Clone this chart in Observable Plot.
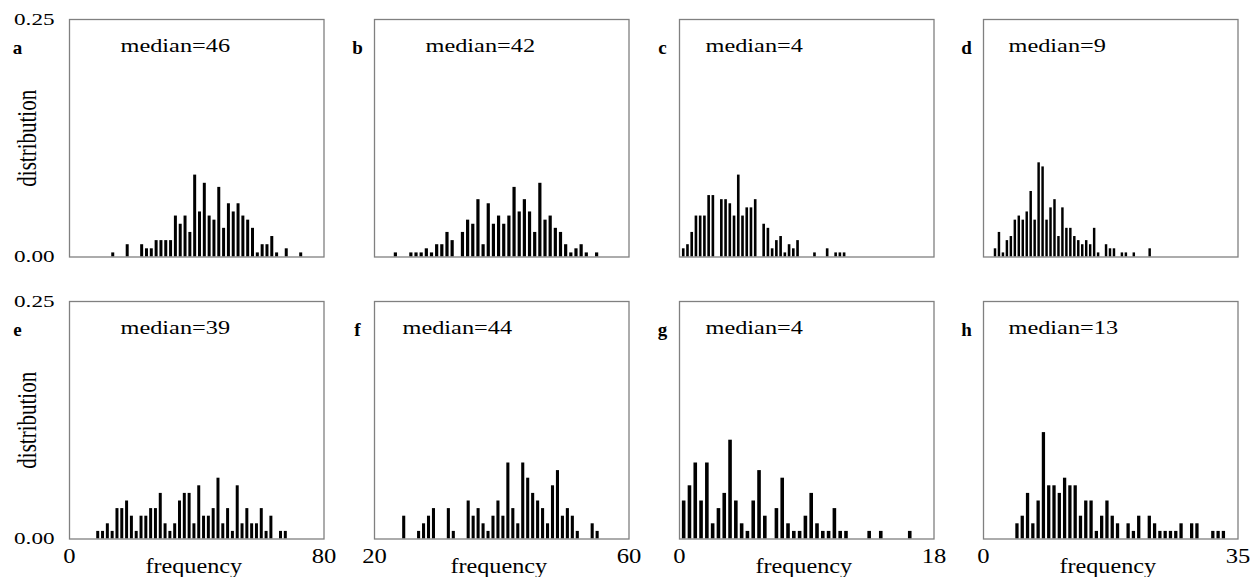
<!DOCTYPE html>
<html>
<head>
<meta charset="utf-8">
<script src="https://cdn.jsdelivr.net/npm/d3@7"></script>
<script src="https://cdn.jsdelivr.net/npm/@observablehq/plot@0.6"></script>
<style>
  html, body { margin: 0; padding: 0; background: #ffffff; }
  #root { position: relative; width: 1252px; height: 577px; overflow: hidden; background: #ffffff; }
  #root svg { position: absolute; overflow: visible; }
</style>
</head>
<body>
<div id="root"></div>
<script>
// ---------------- data ----------------
const letters = ["a", "b", "c", "d", "e", "f", "g", "h"];
const medians = [46, 42, 4, 9, 39, 44, 4, 13];
const totals = [232, 232, 232, 232, 125, 125, 125, 125];           // sample size per panel
const xDomains = [[0, 80], [20, 60], [0, 18], [0, 35], [0, 80], [20, 60], [0, 18], [0, 35]];
const firstBinCenter = [13.75, 23.36, 0.30, 1.65, 9.03, 24.67, 0.33, 4.67];
const binWidth = [1.515, 0.811, 0.2994, 0.5454, 1.512, 0.7795, 0.41, 0.728];
const yTicks = [0, 0.25];

// counts per histogram bin (40 bins each)
const countsA = [1,0,0,3,0,0,3,2,2,4,4,4,4,10,8,10,6,20,11,18,10,9,17,7,13,11,13,10,9,7,1,3,3,5,1,0,2,0,0,1];
const countsB = [1,0,0,1,1,1,2,1,3,3,6,4,0,6,9,8,14,3,13,8,10,8,10,17,11,14,11,6,18,9,10,7,6,3,1,2,3,1,0,1];
const countsC = [2,3,6,10,10,10,15,15,0,14,14,13,10,20,10,12,12,14,0,8,7,2,4,5,1,3,2,4,0,0,0,1,0,0,2,0,1,1,1];
const countsD = [2,6,1,4,5,9,10,9,11,16,9,23,22,9,12,14,5,12,7,7,5,4,3,4,3,7,1,0,3,2,2,0,1,1,0,1,0,0,0,2];
const countsE = [1,1,2,1,4,4,5,3,1,3,3,4,4,6,2,1,2,5,6,6,2,7,3,3,4,8,2,4,1,7,2,4,2,2,4,1,3,0,1,1];
const countsF = [3,0,0,1,2,3,4,0,0,4,1,0,0,5,3,4,2,1,3,5,3,10,4,2,10,8,6,5,4,2,7,9,3,4,3,1,0,0,2,1];
const countsG = [5,7,10,5,10,2,4,6,13,5,2,1,5,9,3,0,4,8,2,1,1,3,6,2,1,1,4,1,1,0,0,0,1,0,1,0,0,0,0,1];
const countsH = [2,3,6,2,5,14,7,7,6,8,7,7,3,5,5,1,3,5,3,2,0,2,1,3,0,3,2,1,1,1,1,2,0,2,2,0,0,1,1,1];
const allCounts = [countsA, countsB, countsC, countsD, countsE, countsF, countsG, countsH];

// ---------------- layout ----------------
const frameLeft = [69, 374, 678.5, 983.3];
const frameTop = [19.3, 300.7];
const frameW = 254.5, frameH = 237.5;
const M = {l: 70, t: 25, r: 20, b: 45};
const medianDx = [51, 51, 26, 25, 51, 28, 26, 25];
const barFrac = 0.31;
const FONT = '"Liberation Serif", "Times New Roman", Times, serif';

// stretch of text glyphs [sx, sy, fontSize] to mimic the reference's wide glyphs
const stretch = {
  "median": [1.28, 1, 19],
  "frequency": [1.1, 1, 22],
  "distribution": [1, 1.25, 21],
  "x-axis tick label": [1.12, 1, 22],
  "y-axis tick label": [1.36, 1, 17]
};

function len(v, fs) {
  if (v == null || v === "") return 0;
  const s = String(v).trim().split(/[\s,]+/)[0];
  if (s.endsWith("em")) return parseFloat(s) * fs;
  const n = parseFloat(s);
  return isFinite(n) ? n : 0;
}

const root = document.getElementById("root");

for (let p = 0; p < 8; p++) {
  const row = Math.floor(p / 4), col = p % 4;
  const N = totals[p];
  const w = binWidth[p];
  const bars = allCounts[p]
    .map((c, i) => ({c, center: firstBinCenter[p] + i * w}))
    .filter(d => d.c > 0);

  const marks = [
    Plot.rect(bars, {
      x1: d => d.center - barFrac * w,
      x2: d => d.center + barFrac * w,
      y1: 0,
      y2: d => d.c / N,
      fill: "#000000"
    }),
    Plot.frame({stroke: "#808080", strokeWidth: 1.3}),
    Plot.text([`median=${medians[p]}`], {
      text: d => d, frameAnchor: "top-left", dx: medianDx[p], dy: 26,
      textAnchor: "start", lineAnchor: "middle", fontSize: 19, fill: "#000", ariaLabel: () => "median"
    }),
    Plot.text([letters[p]], {
      text: d => d, frameAnchor: "top-left", dx: col === 0 ? -52 : -17, dy: 28,
      textAnchor: "middle", lineAnchor: "middle", fontSize: 19, fontWeight: "bold", fill: "#000", ariaLabel: () => "letter"
    })
  ];

  if (col === 0) {
    marks.push(Plot.axisY({
      ticks: yTicks, tickSize: 0, tickPadding: 15, tickFormat: d3.format(".2f"),
      fontSize: 17, label: null
    }));
    marks.push(Plot.text(["distribution"], {
      text: d => d, frameAnchor: "left", dx: -40, rotate: -90,
      textAnchor: "middle", lineAnchor: "middle", fontSize: 21, fill: "#000", ariaLabel: () => "distribution"
    }));
  }
  if (row === 1) {
    marks.push(Plot.axisX({
      ticks: xDomains[p], tickSize: 0, tickPadding: 8, tickFormat: d => String(d),
      fontSize: 22, label: null
    }));
    marks.push(Plot.text(["frequency"], {
      text: d => d, frameAnchor: "bottom", dx: -3, dy: 27,
      textAnchor: "middle", lineAnchor: "middle", fontSize: 22, fill: "#000", ariaLabel: () => "frequency"
    }));
  }

  const svg = Plot.plot({
    width: M.l + frameW + M.r,
    height: M.t + frameH + M.b,
    marginLeft: M.l, marginRight: M.r, marginTop: M.t, marginBottom: M.b,
    x: {domain: xDomains[p], axis: row === 1 ? undefined : null},
    y: {domain: [0, 0.25], axis: col === 0 ? undefined : null},
    style: {background: "transparent", fontFamily: FONT, fontSize: "17px", color: "#000", overflow: "visible"},
    marks
  });

  // stretch text glyphs around their anchor point (local coordinates)
  svg.querySelectorAll("text").forEach(t => {
    let key = t.getAttribute("aria-label");
    if (!stretch[key]) {
      const g = t.closest("g[aria-label]");
      key = g ? g.getAttribute("aria-label") : null;
    }
    const s = stretch[key];
    if (!s) return;
    const x = len(t.getAttribute("x"), s[2]);
    const y = len(t.getAttribute("y"), s[2]);
    const orig = t.getAttribute("transform") || "";
    t.setAttribute("transform", `${orig} translate(${x},${y}) scale(${s[0]},${s[1]}) translate(${-x},${-y})`.trim());
  });

  svg.style.left = (frameLeft[col] - M.l) + "px";
  svg.style.top = (frameTop[row] - M.t) + "px";
  root.appendChild(svg);
}
</script>
</body>
</html>
